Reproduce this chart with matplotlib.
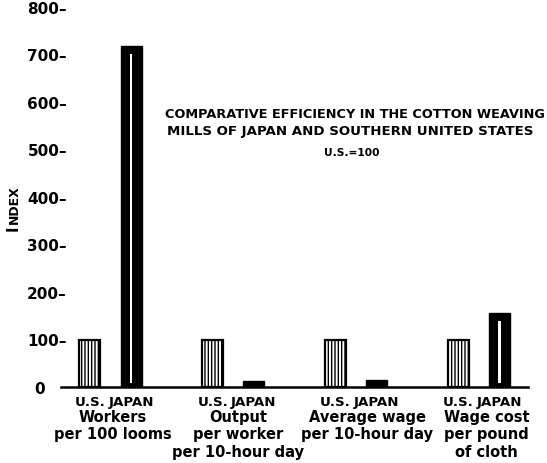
import numpy as np
import matplotlib
matplotlib.use("Agg")
import matplotlib.pyplot as plt
from matplotlib.transforms import blended_transform_factory

plt.rcParams['font.family'] = ['DejaVu Sans']
plt.rcParams['hatch.linewidth'] = 1.0

# Index values (U.S. = 100)
groups = ["Workers\nper 100 looms",
          "Output\nper worker\nper 10-hour day",
          "Average wage\nper 10-hour day",
          "Wage cost\nper pound\nof cloth"]
us_values = [100, 100, 100, 100]
japan_values = [718, 13, 15, 156]
series_names = ["U.S.", "JAPAN"]
y_ticks = [0, 100, 200, 300, 400, 500, 600, 700, 800]
y_tick_labels = ["0    ", "100–", "200–", "300–", "400–", "500–", "600–", "700–", "800–"]

W, H = 547, 464
fig = plt.figure(figsize=(W / 100, H / 100), dpi=100)
ax = fig.add_axes([61.4 / W, 1 - 388 / H, 466.6 / W, (388 - 8) / H])

x = np.arange(len(groups))
offset = 0.168
bw = 0.172
us_x = x - offset
jp_x = x + offset

ax.bar(us_x, us_values, width=bw, facecolor="white", edgecolor="black",
       linewidth=1.6, hatch="|||||", zorder=3)
ax.bar(jp_x, japan_values, width=bw, facecolor="black", edgecolor="black",
       linewidth=1.0, zorder=3)
# thin light stripe running down the middle of the solid bars
stripe = np.maximum(np.array(japan_values) - 25, 0)
ax.bar(jp_x, stripe, bottom=np.where(stripe > 0, 8, 0), width=0.02,
       facecolor="white", edgecolor="none", zorder=4)

ax.set_xlim(-0.4, 3.4)
ax.set_ylim(0, 800)

for s in ["top", "right", "left"]:
    ax.spines[s].set_visible(False)
ax.spines["bottom"].set_linewidth(1.8)

ax.set_yticks(y_ticks)
ax.set_yticklabels(y_tick_labels, fontsize=11, fontweight="bold")
ax.tick_params(axis="y", length=0, pad=-4)

ticks_x = np.ravel(np.column_stack([us_x, jp_x]))
ax.set_xticks(ticks_x)
ax.set_xticklabels(series_names * len(groups), fontsize=9.6, fontweight="bold")
ax.tick_params(axis="x", length=0, pad=6)

# group captions, nudged slightly right of the group centre
caption_shift = [0.02, 0.04, 0.09, 0.065]
trans = blended_transform_factory(ax.transData, ax.transAxes)
for xi, g, dx in zip(x, groups, caption_shift):
    ax.text(xi + dx, -0.058, g, transform=trans, ha="center", va="top",
            fontsize=10.5, fontweight="bold", linespacing=1.2)

# axis title in small capitals
fig.text(17.5 / W, 1 - 231 / H, "I", rotation=90, rotation_mode="anchor",
         ha="left", va="baseline", fontsize=10.5, fontweight="bold")
fig.text(17.5 / W, 1 - 224 / H, "NDEX", rotation=90, rotation_mode="anchor",
         ha="left", va="baseline", fontsize=9, fontweight="bold")

fig.text(355 / W, 1 - 114 / H, "COMPARATIVE EFFICIENCY IN THE COTTON WEAVING",
         ha="center", va="center", fontsize=9.25, fontweight="bold")
fig.text(350 / W, 1 - 132 / H, "MILLS OF JAPAN AND SOUTHERN UNITED STATES",
         ha="center", va="center", fontsize=9.6, fontweight="bold")
fig.text(352 / W, 1 - 153 / H, "U.S.=100", ha="center", va="center",
         fontsize=7.7, fontweight="bold")

fig.savefig("out.png", dpi=100)
